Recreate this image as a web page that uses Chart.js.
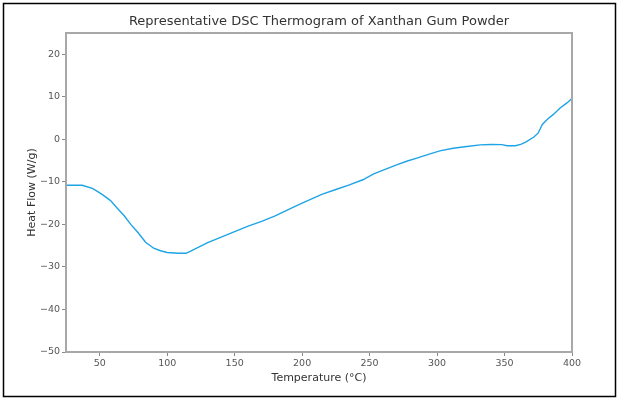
<!DOCTYPE html>
<html>
<head>
<meta charset="utf-8">
<script src="https://cdn.jsdelivr.net/npm/chart.js@4"></script>
<style>
  html, body { margin: 0; padding: 0; background: #fff; }
  #wrap { width: 619px; height: 400px; }
</style>
</head>
<body>
<div id="wrap"><canvas id="mychart" width="619" height="400"></canvas></div>
<script>
// values
var temps = [25, 37, 45, 52, 58, 63, 68, 73, 78, 84, 90, 95, 100, 108, 114, 120, 130, 140, 150, 160, 170, 180, 194, 200, 215, 225, 235, 245, 253, 262, 270, 278, 285, 293, 302, 312, 322, 332, 340, 348, 352, 358, 362, 366, 372, 375, 378, 382, 386, 391, 396, 400];
var heatFlow = [-10.8, -10.8, -11.6, -13.0, -14.4, -16.2, -17.9, -20.0, -21.8, -24.2, -25.6, -26.2, -26.6, -26.8, -26.8, -25.9, -24.3, -23.0, -21.7, -20.4, -19.3, -18.0, -15.9, -15.0, -12.9, -11.8, -10.7, -9.5, -8.1, -7.0, -6.0, -5.1, -4.4, -3.6, -2.7, -2.1, -1.7, -1.3, -1.2, -1.25, -1.5, -1.5, -1.2, -0.6, 0.6, 1.5, 3.5, 4.8, 5.8, 7.3, 8.5, 9.6];
var xTicks = [50, 100, 150, 200, 250, 300, 350, 400];
var yTicks = [-50, -40, -30, -20, -10, 0, 10, 20];
var chartTitle = 'Representative DSC Thermogram of Xanthan Gum Powder';

var points = temps.map(function(t, i) { return {x: t, y: heatFlow[i]}; });

var FONT = "'DejaVu Sans', sans-serif";

// title centred over the plot, gray box round the plot, black frame round the figure
var framePlugin = {
    id: 'frames',
    afterDraw: function(chart) {
        var ctx = chart.ctx;
        var a = chart.chartArea;
        ctx.save();
        ctx.fillStyle = '#333';
        ctx.font = '13px ' + FONT;
        ctx.textAlign = 'center';
        ctx.textBaseline = 'middle';
        ctx.fillText(chartTitle, (a.left + a.right) / 2, 22);
        ctx.strokeStyle = '#a8a8a8';
        ctx.lineWidth = 2;
        ctx.strokeRect(a.left, a.top, a.right - a.left, a.bottom - a.top);
        ctx.strokeStyle = '#000';
        ctx.lineWidth = 1.5;
        ctx.strokeRect(3.5, 3.5, 612, 393);
        ctx.restore();
    }
};

var config = {
    type: 'line',
    data: {
        datasets: [{
            data: points,
            borderColor: '#1ea4e6',
            borderWidth: 1.4,
            pointRadius: 0,
            tension: 0,
            fill: false
        }]
    },
    options: {
        responsive: false,
        animation: false,
        layout: { padding: { left: 26, right: 47, top: 33, bottom: 15 } },
        plugins: {
            legend: { display: false },
            tooltip: { enabled: false },
            title: { display: false }
        },
        scales: {
            x: {
                type: 'linear',
                min: 25,
                max: 400,
                afterBuildTicks: function(s) { s.ticks = xTicks.map(function(v) { return {value: v}; }); },
                afterFit: function(s) { s.height = 33; },
                grid: { drawOnChartArea: false, tickLength: 4, color: '#888', tickWidth: 1 },
                border: { display: false },
                ticks: {
                    color: '#555',
                    padding: 2,
                    maxRotation: 0,
                    font: { family: FONT, size: 9.5 }
                },
                title: {
                    display: true,
                    text: 'Temperature (°C)',
                    color: '#333',
                    padding: 0,
                    font: { family: FONT, size: 11 }
                }
            },
            y: {
                type: 'linear',
                min: -50,
                max: 25,
                afterBuildTicks: function(s) { s.ticks = yTicks.map(function(v) { return {value: v}; }); },
                afterFit: function(s) { s.width = 40; },
                grid: { drawOnChartArea: false, tickLength: 4, color: '#888', tickWidth: 1 },
                border: { display: false },
                ticks: {
                    color: '#555',
                    padding: 2,
                    font: { family: FONT, size: 9.5 },
                    callback: function(v) { return v < 0 ? '\u2212' + Math.abs(v) : String(v); }
                },
                title: {
                    display: true,
                    text: 'Heat Flow (W/g)',
                    color: '#333',
                    padding: 0,
                    font: { family: FONT, size: 11 }
                }
            }
        }
    },
    plugins: [framePlugin]
};

var ctx = document.getElementById('mychart').getContext('2d');
window.myLine = new Chart(ctx, config);
</script>
</body>
</html>
